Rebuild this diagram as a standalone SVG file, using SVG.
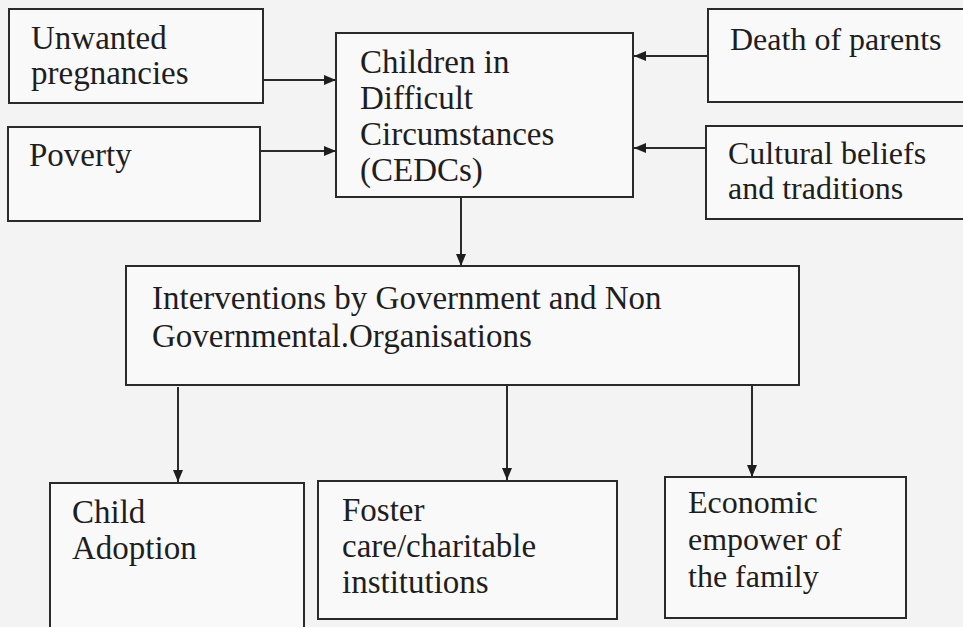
<svg xmlns="http://www.w3.org/2000/svg" width="963" height="627" viewBox="0 0 963 627">
<defs>
<style>
.box{fill:#f9f9f9;stroke:#2a2a2a;stroke-width:2}
.t{font-family:'Liberation Serif','DejaVu Serif','Times New Roman',serif;font-size:33px;fill:#1e1e1e}
.s{font-size:32px}
.c{stroke:#2a2a2a;stroke-width:2;fill:none;marker-end:url(#ah)}
</style>
<marker id="ah" viewBox="0 0 12 10" refX="12" refY="5" markerWidth="12" markerHeight="10" markerUnits="userSpaceOnUse" orient="auto">
<path d="M0,0 L12,5 L0,10 Z" fill="#1e1e1e"/>
</marker>
</defs>
<rect width="963" height="627" fill="#f3f3f3"/>
<g id="connectors">
<line class="c" x1="263" y1="80" x2="336" y2="80"/>
<line class="c" x1="260" y1="151" x2="336" y2="151"/>
<line class="c" x1="708" y1="56" x2="634" y2="56"/>
<line class="c" x1="706" y1="148" x2="634" y2="148"/>
<line class="c" x1="461" y1="197" x2="461" y2="266"/>
<line class="c" x1="178" y1="387" x2="178" y2="482"/>
<line class="c" x1="507" y1="384" x2="507" y2="480"/>
<line class="c" x1="752" y1="383" x2="752" y2="477"/>
</g>
<g id="unwanted">
<rect class="box" x="9" y="9" width="254" height="94"/>
<text class="t" x="31" y="49">Unwanted</text>
<text class="t" x="31" y="84">pregnancies</text>
</g>
<g id="poverty">
<rect class="box" x="8" y="127" width="252" height="94"/>
<text class="t" x="29" y="166">Poverty</text>
</g>
<g id="cedc">
<rect class="box" x="336" y="33" width="297" height="164"/>
<text class="t" x="360" y="73">Children in</text>
<text class="t" x="360" y="109">Difficult</text>
<text class="t" x="360" y="145">Circumstances</text>
<text class="t" x="360" y="181">(CEDCs)</text>
</g>
<g id="death">
<rect class="box" x="708" y="9" width="270" height="93"/>
<text class="t s" x="730" y="50">Death of parents</text>
</g>
<g id="cultural">
<rect class="box" x="706" y="126" width="272" height="93"/>
<text class="t s" x="728" y="164">Cultural beliefs</text>
<text class="t s" x="728" y="199">and traditions</text>
</g>
<g id="interventions">
<rect class="box" x="126" y="266" width="673" height="119"/>
<text class="t" x="152" y="309">Interventions by Government and Non</text>
<text class="t" x="152" y="347">Governmental.Organisations</text>
</g>
<g id="adoption">
<rect class="box" x="50" y="483" width="254" height="160"/>
<text class="t" x="72" y="523">Child</text>
<text class="t" x="72" y="559">Adoption</text>
</g>
<g id="foster">
<rect class="box" x="318" y="481" width="299" height="138"/>
<text class="t" x="342" y="521">Foster</text>
<text class="t" x="342" y="557">care/charitable</text>
<text class="t" x="342" y="593">institutions</text>
</g>
<g id="economic">
<rect class="box" x="665" y="477" width="241" height="141"/>
<text class="t s" x="688" y="513">Economic</text>
<text class="t s" x="688" y="550">empower of</text>
<text class="t s" x="688" y="587">the family</text>
</g>
</svg>
